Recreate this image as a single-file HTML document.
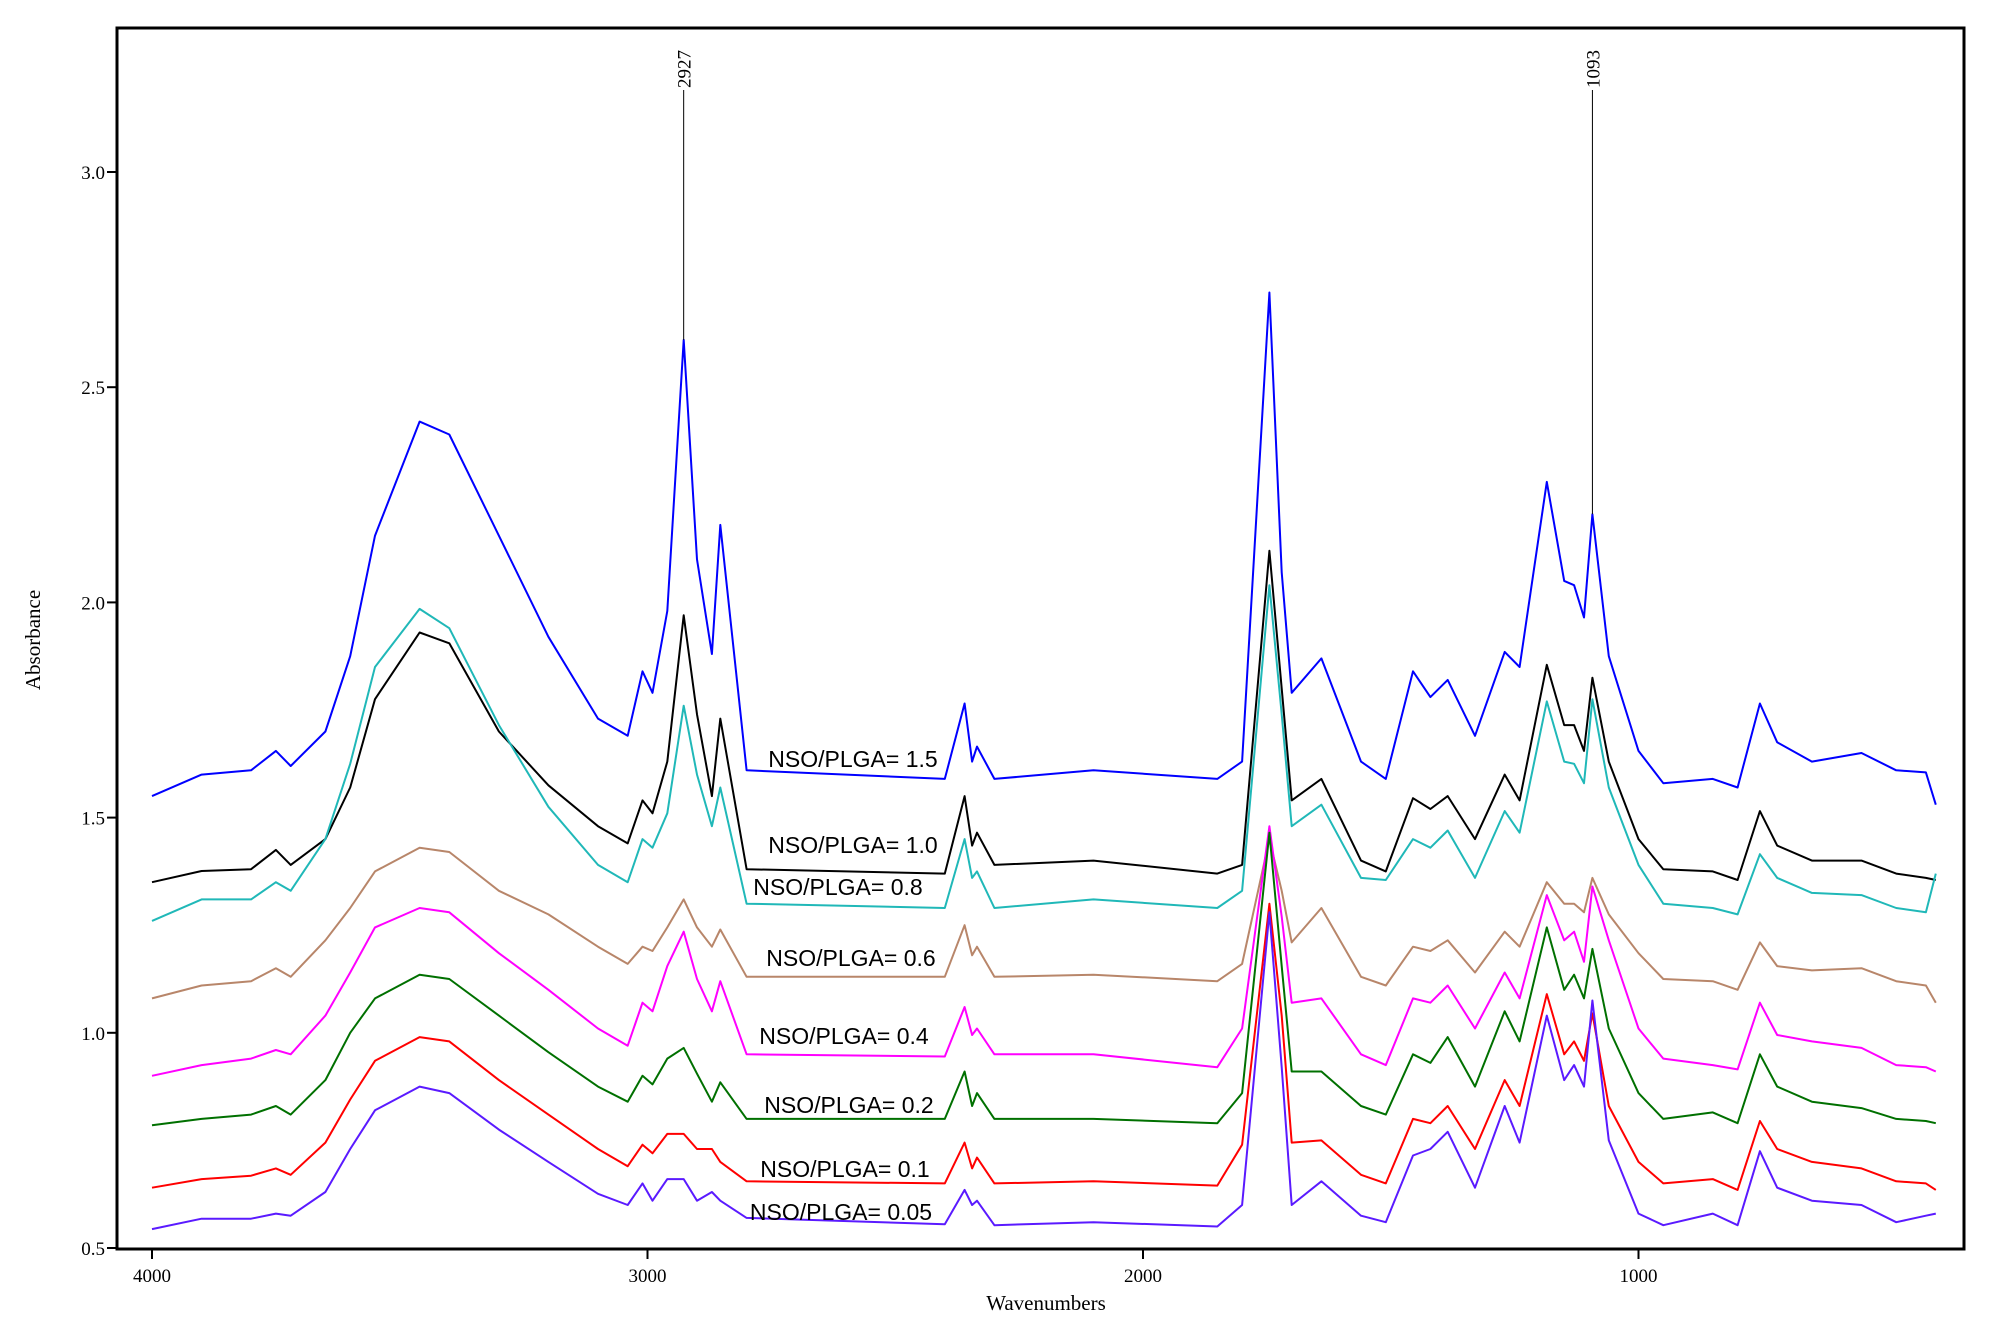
<!DOCTYPE html>
<html><head><meta charset="utf-8"><style>
html,body{margin:0;padding:0;background:#fff;}
svg{display:block;}
text{font-family:"Liberation Serif",serif;}
.lbl{font-family:"Liberation Sans",sans-serif;font-size:23px;}
</style></head><body>
<svg id="chart" width="1990" height="1333" viewBox="0 0 1990 1333" xmlns="http://www.w3.org/2000/svg">
<rect x="117" y="28" width="1847" height="1221" fill="none" stroke="#000" stroke-width="3"/>
<g id="axes"></g>
<g id="series"></g>
<g id="labels"></g>
<text x="1046" y="1310" font-size="21" text-anchor="middle">Wavenumbers</text>
<text x="40" y="640" font-size="21" text-anchor="middle" transform="rotate(-90 40 640)">Absorbance</text>
</svg>
<script>
const wavenumbers=[4000,3900,3800,3750,3720,3650,3600,3550,3460,3400,3300,3200,3100,3040,3010,2990,2960,2927,2900,2870,2853,2800,2400,2360,2345,2335,2300,2100,1850,1800,1745,1720,1700,1640,1560,1510,1455,1420,1385,1330,1270,1240,1185,1150,1130,1110,1093,1060,1000,950,850,800,755,720,650,550,480,420,400];
const s15=[1.55,1.6,1.61,1.655,1.62,1.70,1.875,2.155,2.42,2.39,2.155,1.92,1.73,1.69,1.84,1.79,1.98,2.61,2.1,1.88,2.18,1.61,1.59,1.765,1.63,1.665,1.59,1.61,1.59,1.63,2.72,2.07,1.79,1.87,1.63,1.59,1.84,1.78,1.82,1.69,1.885,1.85,2.28,2.05,2.04,1.965,2.205,1.875,1.655,1.58,1.59,1.57,1.765,1.675,1.63,1.65,1.61,1.605,1.53];
const s10=[1.35,1.376,1.38,1.425,1.39,1.45,1.57,1.775,1.93,1.905,1.70,1.575,1.48,1.44,1.54,1.51,1.63,1.97,1.74,1.55,1.73,1.38,1.37,1.55,1.435,1.465,1.39,1.40,1.37,1.39,2.12,1.80,1.54,1.59,1.40,1.375,1.545,1.52,1.55,1.45,1.60,1.54,1.855,1.715,1.715,1.655,1.825,1.63,1.45,1.38,1.375,1.355,1.515,1.435,1.40,1.40,1.37,1.36,1.355];
const s08=[1.26,1.31,1.31,1.35,1.33,1.45,1.625,1.85,1.985,1.94,1.715,1.525,1.39,1.35,1.45,1.43,1.51,1.76,1.6,1.48,1.57,1.30,1.29,1.45,1.36,1.375,1.29,1.31,1.29,1.33,2.04,1.74,1.48,1.53,1.36,1.355,1.45,1.43,1.47,1.36,1.515,1.465,1.77,1.63,1.625,1.58,1.775,1.57,1.39,1.30,1.29,1.275,1.415,1.36,1.325,1.32,1.29,1.28,1.37];
const s06=[1.08,1.11,1.12,1.15,1.13,1.215,1.29,1.375,1.43,1.42,1.33,1.275,1.20,1.16,1.2,1.19,1.245,1.31,1.245,1.2,1.24,1.13,1.13,1.25,1.18,1.2,1.13,1.135,1.12,1.16,1.45,1.33,1.21,1.29,1.13,1.11,1.2,1.19,1.215,1.14,1.235,1.2,1.35,1.30,1.30,1.28,1.36,1.275,1.185,1.125,1.12,1.10,1.21,1.155,1.145,1.15,1.12,1.11,1.07];
const s04=[0.90,0.925,0.94,0.96,0.95,1.04,1.14,1.245,1.29,1.28,1.185,1.10,1.01,0.97,1.07,1.05,1.155,1.235,1.125,1.05,1.12,0.95,0.945,1.06,0.995,1.01,0.95,0.95,0.92,1.01,1.48,1.27,1.07,1.08,0.95,0.925,1.08,1.07,1.11,1.01,1.14,1.08,1.32,1.215,1.235,1.165,1.34,1.215,1.01,0.94,0.925,0.915,1.07,0.995,0.98,0.965,0.925,0.92,0.91];
const s02=[0.785,0.80,0.81,0.83,0.81,0.89,1.0,1.08,1.135,1.125,1.04,0.955,0.875,0.84,0.9,0.88,0.94,0.965,0.905,0.84,0.885,0.80,0.80,0.91,0.83,0.86,0.80,0.80,0.79,0.86,1.465,1.155,0.91,0.91,0.83,0.81,0.95,0.93,0.99,0.875,1.05,0.98,1.245,1.10,1.135,1.08,1.195,1.01,0.86,0.80,0.815,0.79,0.95,0.875,0.84,0.825,0.80,0.795,0.79];
const s01=[0.64,0.66,0.668,0.685,0.67,0.745,0.845,0.935,0.99,0.98,0.89,0.81,0.73,0.69,0.74,0.72,0.765,0.765,0.73,0.73,0.70,0.655,0.65,0.745,0.685,0.71,0.65,0.655,0.645,0.74,1.30,1.04,0.745,0.75,0.67,0.65,0.80,0.79,0.83,0.73,0.89,0.83,1.09,0.95,0.98,0.935,1.045,0.83,0.70,0.65,0.66,0.635,0.795,0.73,0.70,0.685,0.655,0.65,0.635];
const s005=[0.544,0.568,0.568,0.58,0.575,0.63,0.73,0.82,0.875,0.86,0.775,0.70,0.626,0.6,0.65,0.61,0.66,0.66,0.61,0.63,0.61,0.57,0.555,0.635,0.6,0.61,0.553,0.56,0.55,0.6,1.28,0.92,0.6,0.655,0.575,0.56,0.715,0.73,0.77,0.64,0.83,0.745,1.04,0.89,0.925,0.875,1.075,0.75,0.58,0.553,0.58,0.553,0.725,0.64,0.61,0.60,0.56,0.575,0.58];
const seriesNames=["NSO/PLGA= 1.5","NSO/PLGA= 1.0","NSO/PLGA= 0.8","NSO/PLGA= 0.6","NSO/PLGA= 0.4","NSO/PLGA= 0.2","NSO/PLGA= 0.1","NSO/PLGA= 0.05"];
const yTicks=[0.5,1.0,1.5,2.0,2.5,3.0];
const xTicks=[4000,3000,2000,1000];
const peaks=[2927,1093];

const NS="http://www.w3.org/2000/svg";
const allSeries=[s15,s10,s08,s06,s04,s02,s01,s005];
const colors=["#0000ff","#000000","#20b8b8","#b8866a","#ff00ff","#007000","#ff0000","#5a1aff"];
const labelPos=[[853,767],[853,853],[838,895],[851,966],[844,1044],[849,1113],[845,1177],[841,1220]];
function X(w){return 152+(4000-w)*0.4955;}
function Y(a){return 1248-(a-0.5)*430.4;}
function mk(t,attrs,parent){const e=document.createElementNS(NS,t);for(const k in attrs)e.setAttribute(k,attrs[k]);parent.appendChild(e);return e;}
const ax=document.getElementById('axes');
yTicks.forEach(v=>{
  const l=mk('line',{x1:107,x2:117,y1:Y(v),y2:Y(v),stroke:'#000','stroke-width':2},ax);
  
  
  const t=mk('text',{x:105,y:Y(v)+7,'font-size':19,'text-anchor':'end'},ax);
  t.textContent=v.toFixed(1);
  
  
});
xTicks.forEach(v=>{
  const l=mk('line',{x1:X(v),x2:X(v),y1:1249,y2:1259,stroke:'#000','stroke-width':2},ax);
  
  
  const t=mk('text',{x:X(v),y:1282,'font-size':19,'text-anchor':'middle'},ax);
  t.textContent=v;
  
  
});
const sg=document.getElementById('series');
allSeries.forEach((s,i)=>{
  const pts=s.map((a,j)=>X(wavenumbers[j]).toFixed(1)+','+Y(a).toFixed(1)).join(' ');
  const p=mk('polyline',{points:pts,fill:'none',stroke:colors[i],'stroke-width':2,'stroke-linejoin':'round'},sg);
  
  
});
const lg=document.getElementById('labels');
seriesNames.forEach((n,i)=>{
  const t=mk('text',{x:labelPos[i][0],y:labelPos[i][1],'text-anchor':'middle',class:'lbl'},lg);
  t.textContent=n;
  
  
});
peaks.forEach(w=>{
  const idx=wavenumbers.indexOf(w);
  const l=mk('line',{x1:X(w),x2:X(w),y1:90,y2:Y(s15[idx]),stroke:'#000','stroke-width':1},lg);
  
  
  const t=mk('text',{x:X(w)+7,y:88,'font-size':19,transform:'rotate(-90 '+(X(w)+7)+' 88)'},lg);
  t.textContent=w;
  
  
});
</script>
</body></html>
